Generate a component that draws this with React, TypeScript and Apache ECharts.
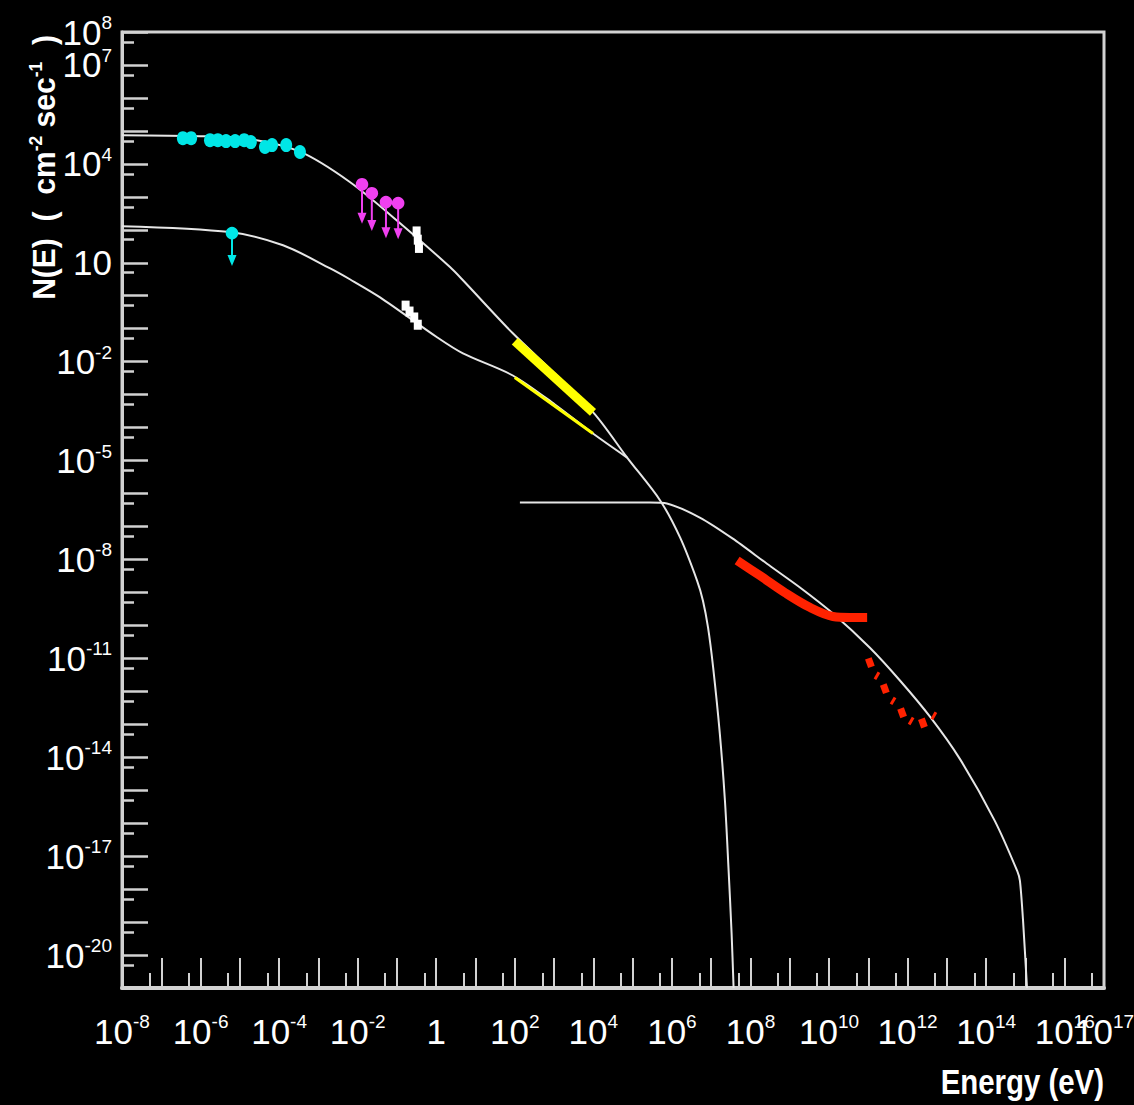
import React, { useEffect, useRef } from "react";
import * as echarts from "echarts";

const FONT = "'Liberation Sans Narrow', 'Liberation Sans', Arial, sans-serif";

// All values are log10 exponents: x = log10(E / eV), y = log10(N(E) / cm^-2 s^-1)
const xMajorTicks = [-8, -7, -6, -5, -4, -3, -2, -1, 0, 1, 2, 3, 4, 5, 6, 7, 8, 9, 10, 11, 12, 13, 14, 15, 16, 17];
const yMajorTicks = [-21, -20, -19, -18, -17, -16, -15, -14, -13, -12, -11, -10, -9, -8, -7, -6, -5, -4, -3, -2, -1, 0, 1, 2, 3, 4, 5, 6, 7, 8];
const xLabelValues = [-8, -6, -4, -2, 0, 2, 4, 6, 8, 10, 12, 14, 16];
const xEndLabel = [17];
const yLabelValues = [7, 4, 1, -2, -5, -8, -11, -14, -17, -20];
const yEndLabel = [8];

// model curves
const upperCurve = [
  [-8.0, 4.87], [-6.0, 4.84], [-4.74, 4.75], [-3.47, 4.37], [-2.2, 3.45], [-0.92, 2.2],
  [0.35, 0.87], [0.68, 0.47], [1.95, -1.14], [3.02, -2.36], [4.04, -3.6], [4.86, -4.91],
  [5.7, -6.21], [6.21, -7.34], [6.64, -8.64], [6.79, -9.25], [6.92, -10.07], [7.05, -11.28],
  [7.22, -13.29], [7.35, -15.32], [7.44, -17.36], [7.52, -19.36], [7.57, -21.0],
];
const lowerCurve = [
  [-8.0, 2.11], [-5.25, 1.93], [-3.9, 1.53], [-2.7, 0.83], [-2.2, 0.5], [-1.43, -0.05],
  [0.02, -1.26], [0.68, -1.75], [1.95, -2.42], [3.02, -3.3], [3.99, -4.18], [4.86, -4.91],
];
const highCurve = [
  [2.13, -6.27], [5.44, -6.27], [5.87, -6.3], [6.71, -6.73], [7.55, -7.37], [8.42, -8.13],
  [9.26, -8.85], [10.1, -9.64], [11.04, -10.68], [11.81, -11.68], [12.57, -12.77],
  [13.33, -14.05], [14.22, -15.93], [14.79, -17.45], [14.86, -17.75], [14.94, -18.97], [15.04, -21.0],
];

// measurements
const cyanPoints = [
  [-6.45, 4.78], [-6.24, 4.78], [-5.76, 4.72], [-5.56, 4.72], [-5.35, 4.69], [-5.12, 4.69],
  [-4.89, 4.72], [-4.72, 4.66], [-4.36, 4.51], [-4.18, 4.57], [-3.82, 4.57], [-3.47, 4.36],
];
// [x, y, arrow length in decades]
const cyanLimits = [[-5.2, 1.9, 1.0]];
const magentaLimits = [
  [-1.89, 3.38, 1.2], [-1.64, 3.11, 1.15], [-1.28, 2.84, 1.1], [-0.97, 2.81, 1.1],
];
const whiteUpper = [[-0.5, 1.95], [-0.47, 1.7], [-0.44, 1.45]];
const whiteLower = [[-0.78, -0.3], [-0.68, -0.48], [-0.56, -0.66], [-0.47, -0.88]];
const yellowThick = [[2.0, -1.38], [3.99, -3.54]];
const yellowThin = [[2.0, -2.48], [3.99, -4.18]];
const redBand = [
  [7.66, -8.03], [8.24, -8.49], [8.88, -9.01], [9.52, -9.46], [10.1, -9.73], [10.53, -9.76], [10.97, -9.76],
];
const redDots = [[11.04, -11.13], [11.42, -11.92], [11.86, -12.65], [12.39, -12.96]];
const redDashes = [[11.22, -11.53], [11.63, -12.29], [12.09, -12.9], [12.67, -12.74]];

const MINOR = Math.log10(0.5);
const xMinorTicks = xMajorTicks.slice(1).map((v) => v + MINOR);
const yMinorTicks = yMajorTicks.slice(1).map((v) => v + MINOR);

const AXIS_GREY = "#d2d2d2";

const supLabel = (v: number, oneAsTen: boolean) => {
  if (v === 0 && !oneAsTen) return "{b|1}";
  if (v === 1 && oneAsTen) return "{b|10}";
  return "{b|10}{s|" + v + "}";
};

const labelRich = {
  b: { fontSize: 35, fontFamily: FONT, color: "#ffffff", lineHeight: 38 },
  s: { fontSize: 19, fontFamily: FONT, color: "#ffffff", lineHeight: 22, verticalAlign: "top" },
};

const xLabel = (values: number[]) => ({
  show: true,
  customValues: values,
  showMinLabel: true,
  showMaxLabel: true,
  hideOverlap: false,
  margin: 24,
  formatter: (v: number) => supLabel(Math.round(v), false),
  rich: labelRich,
});
const yLabel = (values: number[]) => ({
  show: true,
  customValues: values,
  showMinLabel: true,
  showMaxLabel: true,
  hideOverlap: false,
  margin: 10,
  align: "right",
  formatter: (v: number) => supLabel(Math.round(v), true),
  rich: labelRich,
});

const limitSeries = (data: number[][], color: string) => ({
  type: "custom",
  xAxisIndex: 0,
  yAxisIndex: 0,
  encode: { x: 0, y: 1 },
  data,
  z: 5,
  renderItem: (_p: any, api: any) => {
    const x = api.value(0);
    const y = api.value(1);
    const l = api.value(2);
    const p0 = api.coord([x, y]);
    const p1 = api.coord([x, y - l]);
    return {
      type: "group",
      children: [
        { type: "line", shape: { x1: p0[0], y1: p0[1], x2: p1[0], y2: p1[1] - 8 }, style: { stroke: color, lineWidth: 2 } },
        {
          type: "polygon",
          shape: { points: [[p1[0] - 4.5, p1[1] - 11], [p1[0] + 4.5, p1[1] - 11], [p1[0], p1[1]]] },
          style: { fill: color },
        },
        { type: "circle", shape: { cx: p0[0], cy: p0[1], r: 6.3 }, style: { fill: color } },
      ],
    };
  },
});

const lineSeries = (data: number[][], color: string, width: number, smooth: number, z = 3) => ({
  type: "line",
  data,
  showSymbol: false,
  symbol: "none",
  smooth,
  lineStyle: { color, width, cap: "butt" },
  z,
  silent: true,
});

const scatterSeries = (data: number[][], symbol: string, size: number[], color: string, rotate = 0) => ({
  type: "scatter",
  data,
  symbol,
  symbolSize: size,
  symbolRotate: rotate,
  itemStyle: { color, opacity: 1 },
  z: 5,
  silent: true,
});

export default function App() {
  const ref = useRef<HTMLDivElement>(null);
  useEffect(() => {
    document.body.style.margin = "0";
    document.body.style.background = "#000";
    const chart = echarts.init(ref.current as HTMLDivElement, undefined, { renderer: "svg" });
    const option: any = {
      animation: false,
      backgroundColor: "#000000",
      grid: {
        left: 122,
        right: 30,
        top: 32,
        bottom: 117,
        show: true,
        borderColor: AXIS_GREY,
        borderWidth: 3,
        backgroundColor: "transparent",
        containLabel: false,
        outerBoundsMode: "none",
      },
      xAxis: [
        {
          type: "value",
          min: -8,
          max: 17,
          axisLine: { show: true, onZero: false, lineStyle: { color: AXIS_GREY, width: 4 } },
          axisTick: { show: true, inside: true, length: 30, customValues: xMajorTicks, lineStyle: { color: AXIS_GREY, width: 2 } },
          axisLabel: xLabel(xLabelValues),
          splitLine: { show: false },
        },
        {
          type: "value",
          min: -8,
          max: 17,
          position: "bottom",
          axisLine: { show: false, onZero: false },
          axisTick: { show: true, inside: true, length: 15, customValues: xMinorTicks, lineStyle: { color: AXIS_GREY, width: 2 } },
          axisLabel: xLabel(xEndLabel),
          splitLine: { show: false },
        },
      ],
      yAxis: [
        {
          type: "value",
          min: -21,
          max: 8,
          axisLine: { show: true, onZero: false, lineStyle: { color: AXIS_GREY, width: 3 } },
          axisTick: { show: true, inside: true, length: 26, customValues: yMajorTicks, lineStyle: { color: AXIS_GREY, width: 2.5 } },
          axisLabel: yLabel(yLabelValues),
          splitLine: { show: false },
        },
        {
          type: "value",
          min: -21,
          max: 8,
          position: "left",
          axisLine: { show: false, onZero: false },
          axisTick: { show: true, inside: true, length: 12, customValues: yMinorTicks, lineStyle: { color: AXIS_GREY, width: 2.5 } },
          axisLabel: yLabel(yEndLabel),
          splitLine: { show: false },
        },
      ],
      graphic: [
        {
          type: "text",
          x: 44,
          y: 35,
          rotation: Math.PI / 2,
          scaleX: 0.97,
          style: {
            text: "{t|N(E)  (  cm}{s|-2}{t| sec}{s|-1}{t|  )}",
            textAlign: "right",
            textVerticalAlign: "middle",
            rich: {
              t: { fontSize: 31, fontWeight: "bold", fontFamily: FONT, fill: "#ffffff", lineHeight: 34 },
              s: { fontSize: 18, fontWeight: "bold", fontFamily: FONT, fill: "#ffffff", lineHeight: 20, verticalAlign: "top" },
            },
          },
        },
        {
          type: "text",
          x: 1104,
          y: 1082,
          scaleX: 0.84,
          style: {
            text: "Energy (eV)",
            textAlign: "right",
            textVerticalAlign: "middle",
            fontSize: 35,
            fontWeight: "bold",
            fontFamily: FONT,
            fill: "#ffffff",
          },
        },
      ],
      series: [
        lineSeries(upperCurve, "#e6e6e6", 2, 0.3),
        lineSeries(lowerCurve, "#e6e6e6", 2, 0.3),
        lineSeries(highCurve, "#e6e6e6", 2, 0.25),
        lineSeries(yellowThick, "#ffff00", 9, 0, 4),
        lineSeries(yellowThin, "#ffff00", 3, 0, 4),
        lineSeries(redBand, "#ff2200", 9, 0.35, 4),
        scatterSeries(cyanPoints, "circle", [12, 14], "#00e6e6"),
        limitSeries(cyanLimits, "#00e6e6"),
        limitSeries(magentaLimits, "#f040f0"),
        scatterSeries(whiteUpper.concat(whiteLower), "rect", [8, 10], "#ffffff"),
        scatterSeries(redDots, "rect", [7, 9], "#ff2200", 20),
        scatterSeries(redDashes, "rect", [3, 8], "#ff2200", -30),
      ],
    };
    chart.setOption(option);
    return () => chart.dispose();
  }, []);
  return (
    <div
      ref={ref}
      style={{ position: "absolute", left: 0, top: 0, width: 1134, height: 1105, background: "#000" }}
    />
  );
}
